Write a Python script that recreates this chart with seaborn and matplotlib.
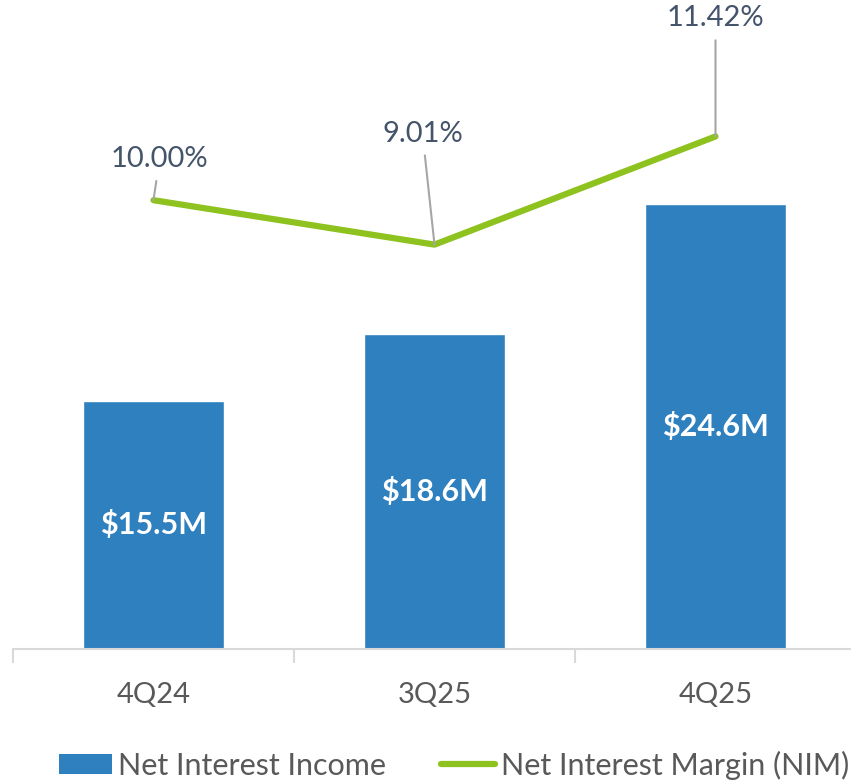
import numpy as np
import matplotlib
matplotlib.use("Agg")
import matplotlib.pyplot as plt
import seaborn as sns
from matplotlib.patches import Patch
from matplotlib.lines import Line2D

quarters = ["4Q24", "3Q25", "4Q25"]
nii = [15.5, 18.6, 24.6]
nim = [10.00, 9.01, 11.42]
bar_labels = ["$15.5M", "$18.6M", "$24.6M"]
nim_labels = ["10.00%", "9.01%", "11.42%"]
# label offsets from the line points, in pixels
nim_offsets = [(6, 41), (-12, 111), (0, 118)]

BLUE = "#2F80BF"
GREEN = "#8DC21F"
GRAY = "#595959"
SLATE = "#44546A"

sns.set_theme(style="white")
plt.rcParams["font.family"] = ["Lato", "DejaVu Sans"]

fig = plt.figure(figsize=(8.51, 7.81), dpi=100)
ax = fig.add_axes([13 / 851, 132 / 781, 843 / 851, 649 / 781])

sns.barplot(x=quarters, y=nii, color=BLUE, width=0.5, saturation=1, ax=ax)
ymin = 4.0
ax.set_xlim(-0.5, 2.5)
ax.set_ylim(ymin, 34.05)
for i, lab in enumerate(bar_labels):
    # centred in the visible part of the bar
    ax.text(i, (nii[i] + ymin) / 2, lab, ha="center", va="center", color="white",
            fontsize=22, fontweight="bold")

ax2 = ax.twinx()
sns.lineplot(x=np.arange(3), y=nim, color=GREEN, linewidth=4.5, ax=ax2,
             solid_capstyle="round")
ax2.set_ylim(0, 14.46)
for i, lab in enumerate(nim_labels):
    dx, dy = nim_offsets[i]
    ax2.annotate(lab, xy=(i, nim[i]), xytext=(dx, dy), textcoords="offset pixels",
                 ha="center", va="center", color=SLATE, fontsize=21,
                 arrowprops=dict(arrowstyle="-", color="#A6A6A6", lw=1.5,
                                 shrinkA=4, shrinkB=0))

for a in (ax, ax2):
    for s in ("top", "right", "left"):
        a.spines[s].set_visible(False)
    a.set_yticks([])
    a.set_ylabel("")
ax2.spines["bottom"].set_visible(False)
ax.spines["bottom"].set_color("#D9D9D9")
ax.spines["bottom"].set_linewidth(1.5)
ax.tick_params(axis="x", which="major", length=0, pad=24, labelsize=21,
               labelcolor=GRAY)
ax.set_xticks([-0.5, 0.5, 1.5, 2.5], minor=True)
ax.tick_params(axis="x", which="minor", length=10, width=1.5, color="#D9D9D9",
               bottom=True)

handles = [Patch(facecolor=BLUE, edgecolor="none", label="Net Interest Income"),
           Line2D([0], [0], color=GREEN, lw=4.5, label="Net Interest Margin (NIM)")]
fig.legend(handles=handles, loc="center", bbox_to_anchor=(454 / 851, 16 / 781),
           ncol=2, frameon=False, fontsize=22, labelcolor=GRAY, handlelength=1.75,
           handleheight=0.65, handletextpad=0.2, columnspacing=1.8,
           borderaxespad=0, borderpad=0)

fig.savefig("out.png", dpi=100)
